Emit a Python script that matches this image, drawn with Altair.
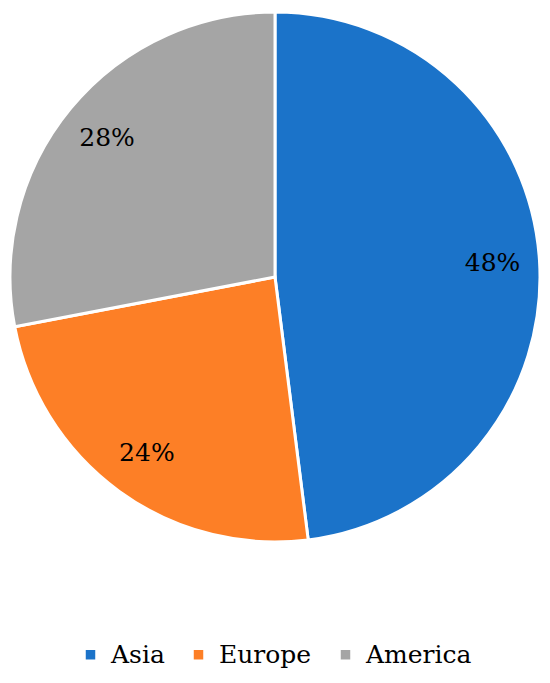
import altair as alt
import pandas as pd

regions = ["Asia", "Europe", "America"]
shares = [48, 24, 28]
labels = ["48%", "24%", "28%"]
colors = ["#1B73C9", "#FD7F26", "#A5A5A5"]

df = pd.DataFrame({"region": regions, "share": shares, "label": labels, "order": [0, 1, 2]})

FONT = "DejaVu Serif"

base = alt.Chart(df).encode(
    theta=alt.Theta("share:Q", stack=True),
    order=alt.Order("order:Q"),
)

color = alt.Color(
    "region:N",
    sort=regions,
    scale=alt.Scale(domain=regions, range=colors),
    legend=alt.Legend(
        title=None,
        orient="none",
        direction="horizontal",
        legendX=70,
        legendY=634,
        symbolType="square",
        symbolSize=90,
        symbolStrokeWidth=0,
        labelFont=FONT,
        labelFontSize=25,
        labelColor="#000000",
        labelOffset=8,
        columnPadding=21,
        labelLimit=300,
    ),
)

arcs = base.mark_arc(stroke="white", strokeWidth=3, outerRadius=265).encode(
    color=color,
    x=alt.value(267),
    y=alt.value(269),
)

text = base.mark_text(
    radius=218, font=FONT, fontSize=25, color="#000000"
).encode(
    text="label:N",
    x=alt.value(267),
    y=alt.value(269),
)

chart = (
    alt.layer(arcs, text)
    .properties(width=534, height=667, autosize=alt.AutoSizeParams(type="none"), padding=0)
    .configure(font=FONT)
    .configure_view(stroke=None)
    .configure_legend(labelFont=FONT)
)

chart.save("out.html", embed_options={"renderer": "svg", "actions": False})
